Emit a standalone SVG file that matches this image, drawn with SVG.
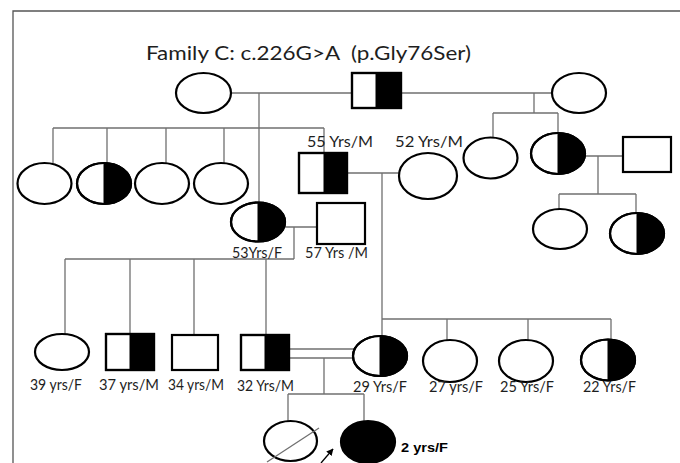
<svg xmlns="http://www.w3.org/2000/svg" width="680" height="463" viewBox="0 0 680 463">
<style>
.sym{fill:#fff;stroke:#000;stroke-width:2.2}
.out{fill:none;stroke:#000;stroke-width:2.2}
.blk{fill:#000;stroke:#000;stroke-width:1}
.ln{fill:none;stroke:#707070;stroke-width:1.3}
.lbl{font-family:Lato,"Liberation Sans",Arial,sans-serif;font-size:15px;fill:#1e1e1e}
.ttl{font-family:Lato,"Liberation Sans",Arial,sans-serif;font-size:18.5px;fill:#1e1e1e}
.bold{font-family:"Liberation Sans",Arial,sans-serif;font-size:13px;font-weight:bold;fill:#000}
</style>
<defs>
<marker id="ah" viewBox="0 0 10 10" refX="9" refY="5" markerWidth="7" markerHeight="7" orient="auto" markerUnits="userSpaceOnUse">
<path d="M0,0 L10,5 L0,10 Z" fill="#000"/>
</marker>
</defs>
<rect width="680" height="463" fill="#fff"/>
<path d="M13,463 V11 H680" fill="none" stroke="#555" stroke-width="1.3"/>
<text class="ttl" x="146" y="60" textLength="325" lengthAdjust="spacingAndGlyphs" xml:space="preserve">Family C: c.226G&gt;A  (p.Gly76Ser)</text>

<g id="connectors" class="ln">
<path d="M231,93 H352 M401,93 H552"/>
<path d="M259,93 V203 M53,128 H324 M53,128 V163 M107,128 V163 M166,128 V163 M224,128 V163 M324,128 V153"/>
<path d="M534,93 V113 M493,113 H558 M493,113 V138 M558,113 V133"/>
<path d="M347,173 H399 M382,173 V336 M382,319 H611 M447,319 V340 M528,319 V340 M611,319 V339"/>
<path d="M585,156 H623 M598,156 V194 M559,194 H636 M559,194 V209 M636,194 V213"/>
<path d="M284,227 H317 M294,227 V259 M65,259 H294 M65,259 V334 M130,259 V334 M194,259 V335 M266,259 V335"/>
<path d="M289,349 H354 M289,358 H354"/>
<path d="M324,358 V394 M288,394 H364 M288,394 V421 M364,394 V421"/>
<path d="M321,463 L333,449" stroke="#000" marker-end="url(#ah)"/>
</g>

<g id="I-1"><ellipse class="sym" cx="203.5" cy="93" rx="27.5" ry="20"/></g>
<g id="I-2"><rect class="sym" x="352" y="73" width="49" height="35"/><rect class="blk" x="376" y="73" width="25" height="35"/><rect class="out" x="352" y="73" width="49" height="35"/></g>
<g id="I-3"><ellipse class="sym" cx="579" cy="93" rx="27" ry="20"/></g>

<g id="II-1"><ellipse class="sym" cx="44.5" cy="183.5" rx="27" ry="20.5"/></g>
<g id="II-2"><ellipse class="sym" cx="104" cy="183.5" rx="27" ry="20.5"/><path class="blk" d="M104,163 A27,20.5 0 0 1 104,204 Z"/><ellipse class="out" cx="104" cy="183.5" rx="27" ry="20.5"/></g>
<g id="II-3"><ellipse class="sym" cx="162" cy="183.5" rx="27" ry="20.5"/></g>
<g id="II-4"><ellipse class="sym" cx="221" cy="183.5" rx="27" ry="20.5"/></g>
<g id="II-5"><rect class="sym" x="299" y="153" width="48" height="40"/><rect class="blk" x="324" y="153" width="23" height="40"/><rect class="out" x="299" y="153" width="48" height="40"/>
<text class="lbl" x="307" y="147" textLength="66" lengthAdjust="spacingAndGlyphs">55 Yrs/M</text></g>
<g id="II-6"><ellipse class="sym" cx="428" cy="176" rx="29" ry="23"/>
<text class="lbl" x="395" y="147" textLength="68" lengthAdjust="spacingAndGlyphs">52 Yrs/M</text></g>
<g id="II-7"><ellipse class="sym" cx="490.5" cy="158" rx="27" ry="20.5"/></g>
<g id="II-8"><ellipse class="sym" cx="558" cy="153.5" rx="27" ry="20.5"/><path class="blk" d="M558,133 A27,20.5 0 0 1 558,174 Z"/><ellipse class="out" cx="558" cy="153.5" rx="27" ry="20.5"/></g>
<g id="II-9"><rect class="sym" x="623" y="137" width="48" height="35"/></g>

<g id="III-1"><ellipse class="sym" cx="258" cy="222" rx="27" ry="19.5"/><path class="blk" d="M258,202.5 A27,19.5 0 0 1 258,241.5 Z"/><ellipse class="out" cx="258" cy="222" rx="27" ry="19.5"/>
<text class="lbl" x="232" y="258" textLength="50" lengthAdjust="spacingAndGlyphs">53Yrs/F</text></g>
<g id="III-2"><rect class="sym" x="317" y="203" width="48" height="41"/>
<text class="lbl" x="305" y="258" textLength="63" lengthAdjust="spacingAndGlyphs">57 Yrs /M</text></g>
<g id="III-3"><ellipse class="sym" cx="560" cy="229" rx="27" ry="20"/></g>
<g id="III-4"><ellipse class="sym" cx="637" cy="233.5" rx="27" ry="20.5"/><path class="blk" d="M637,213 A27,20.5 0 0 1 637,254 Z"/><ellipse class="out" cx="637" cy="233.5" rx="27" ry="20.5"/></g>

<g id="IV-1"><ellipse class="sym" cx="62" cy="352" rx="27" ry="18"/>
<text class="lbl" x="30" y="390" textLength="52" lengthAdjust="spacingAndGlyphs">39 yrs/F</text></g>
<g id="IV-2"><rect class="sym" x="106" y="334" width="48" height="36"/><rect class="blk" x="130" y="334" width="24" height="36"/><rect class="out" x="106" y="334" width="48" height="36"/>
<text class="lbl" x="99" y="390" textLength="60" lengthAdjust="spacingAndGlyphs">37 yrs/M</text></g>
<g id="IV-3"><rect class="sym" x="172" y="335" width="46" height="35"/>
<text class="lbl" x="168" y="390" textLength="56" lengthAdjust="spacingAndGlyphs">34 yrs/M</text></g>
<g id="IV-4"><rect class="sym" x="241" y="335" width="48" height="35"/><rect class="blk" x="265" y="335" width="24" height="35"/><rect class="out" x="241" y="335" width="48" height="35"/>
<text class="lbl" x="237" y="391" textLength="57" lengthAdjust="spacingAndGlyphs">32 Yrs/M</text></g>
<g id="IV-5"><ellipse class="sym" cx="380" cy="356" rx="27" ry="20"/><path class="blk" d="M380,336 A27,20 0 0 1 380,376 Z"/><ellipse class="out" cx="380" cy="356" rx="27" ry="20"/>
<text class="lbl" x="353" y="392" textLength="54" lengthAdjust="spacingAndGlyphs">29 Yrs/F</text></g>
<g id="IV-6"><ellipse class="sym" cx="450" cy="361" rx="27" ry="21"/>
<text class="lbl" x="429" y="392" textLength="54" lengthAdjust="spacingAndGlyphs">27 yrs/F</text></g>
<g id="IV-7"><ellipse class="sym" cx="526" cy="361" rx="27" ry="21"/>
<text class="lbl" x="500" y="392" textLength="54" lengthAdjust="spacingAndGlyphs">25 Yrs/F</text></g>
<g id="IV-8"><ellipse class="sym" cx="608" cy="360" rx="27" ry="20.5"/><path class="blk" d="M608,339.5 A27,20.5 0 0 1 608,380.5 Z"/><ellipse class="out" cx="608" cy="360" rx="27" ry="20.5"/>
<text class="lbl" x="583" y="392" textLength="53" lengthAdjust="spacingAndGlyphs">22 Yrs/F</text></g>

<g id="V-1"><ellipse class="sym" cx="290.5" cy="441" rx="26.5" ry="20"/><path d="M267,462 L319,428" fill="none" stroke="#707070" stroke-width="1.3"/></g>
<g id="V-2"><ellipse cx="368" cy="442" rx="27" ry="21" fill="#000" stroke="#000" stroke-width="2.2"/>
<text class="bold" x="401" y="452" textLength="47" lengthAdjust="spacingAndGlyphs">2 yrs/F</text></g>
</svg>
